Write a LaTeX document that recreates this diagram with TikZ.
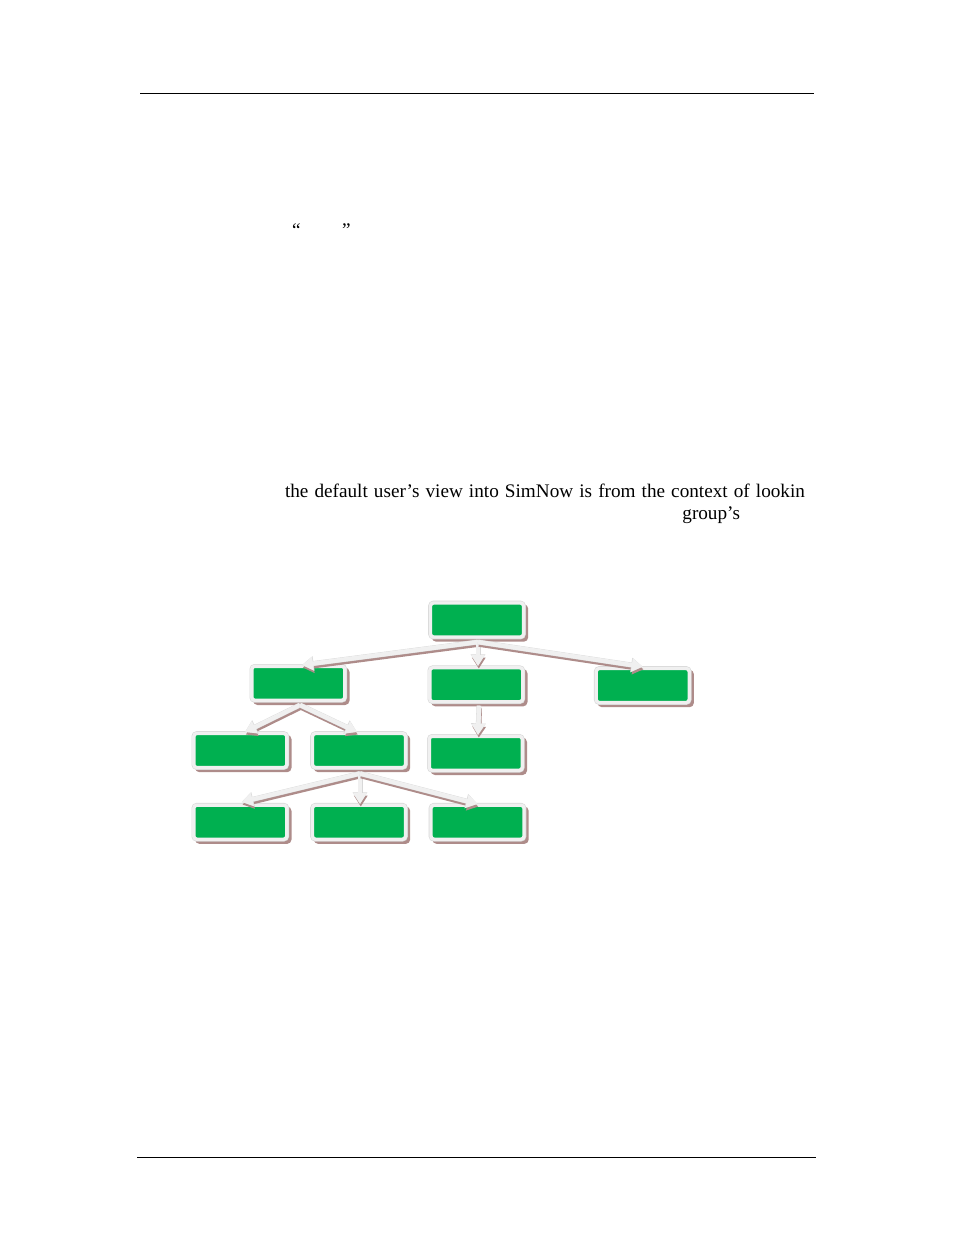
\documentclass[tikz,border=0pt]{standalone}
\usepackage{fontspec}
\setmainfont{Liberation Serif}
\usetikzlibrary{calc,arrows.meta}
\definecolor{boxgreen}{HTML}{00B050}
\definecolor{shadowc}{HTML}{AE8C8A}
\definecolor{rimc}{HTML}{F0F0F0}
\definecolor{rimline}{HTML}{D8D8D8}
\newcommand\myconn[2]{%
  \draw[connshadow] #1 -- #2;
  \draw[connedge] #1 -- #2;
  \draw[connmain] #1 -- #2;}
\begin{document}
\begin{tikzpicture}[x=1pt,y=-1pt,
  gbox/.style={minimum width=93pt, minimum height=34pt, inner sep=0pt, outer sep=0pt,
    rounded corners=3pt, fill=boxgreen, draw=rimc, line width=3.4pt,
    preaction={draw=shadowc, fill=shadowc, line width=3.4pt, transform canvas={shift={(3pt,-3pt)}}},
    preaction={draw=rimline, line width=4.6pt}},
  connmain/.style={draw=rimc, line width=4.4pt, -{Triangle[width=13pt,length=11pt]}},
  connedge/.style={draw=rimline, line width=5pt, -{Triangle[width=14pt,length=11.6pt]}},
  connshadow/.style={draw=shadowc, line width=4.4pt, -{Triangle[width=13pt,length=11pt]},
    transform canvas={shift={(0.8pt,-2.6pt)}}},
  rulel/.style={draw=black, line width=0.9pt},
  bodytext/.style={inner sep=0pt, outer sep=0pt, font=\fontsize{19.2pt}{22pt}\selectfont}
]
\useasboundingbox (0,0) rectangle (954,1235);
% header / footer rules
\coordinate (h1) at (140,93);
\coordinate (h2) at (814,93);
\coordinate (f1) at (137,1157);
\coordinate (f2) at (816,1157);
\draw[rulel] (h1) -- (h2);
\draw[rulel] (f1) -- (f2);
% texts
\node[bodytext, anchor=base west] (q1) at (292,236.5) {“};
\node[bodytext, anchor=base west] (q2) at (342,236.5) {”};
\node[bodytext, anchor=base west] (t1) at (285,497.5) {\makebox[520pt][s]{the default user’s view into SimNow is from the context of lookin}};
\node[bodytext, anchor=base east] (t2) at (740,519.5) {group’s};
% boxes
\node[gbox] (root) at (477,620) {};
\node[gbox] (L2) at (298.3,683.3) {};
\node[gbox] (M2) at (476.3,684.7) {};
\node[gbox] (R2) at (642.7,685.5) {};
\node[gbox] (L3) at (240.3,750.5) {};
\node[gbox] (C3) at (359,750.5) {};
\node[gbox] (M3) at (475.8,753.3) {};
\node[gbox] (L4) at (240.3,822.2) {};
\node[gbox] (C4) at (359,822.2) {};
\node[gbox] (R4) at (477.5,822.2) {};
% connectors
\myconn{($(root.south)+(1,5)$)}{($(L2.north)+(3.7,-1.3)$)}
\myconn{($(root.south)+(1,5)$)}{($(M2.north)+(1.7,-1.7)$)}
\myconn{($(root.south)+(1,5)$)}{($(R2.north)+(0,-1.8)$)}
\myconn{($(L2.south)+(1.7,4.7)$)}{($(L3.north)+(4.7,-1.5)$)}
\myconn{($(L2.south)+(1.7,4.7)$)}{($(C3.north)+(-2,-1.5)$)}
\myconn{($(M2.south)+(2.7,4)$)}{($(M3.north)+(2.2,-1.3)$)}
\myconn{($(C3.south)+(1,6)$)}{($(L4.north)+(1.4,-3.2)$)}
\myconn{($(C3.south)+(1,6)$)}{($(C4.north)+(1,-1.2)$)}
\myconn{($(C3.south)+(1,6)$)}{($(R4.north)+(0,-1.2)$)}
\end{tikzpicture}
\end{document}
